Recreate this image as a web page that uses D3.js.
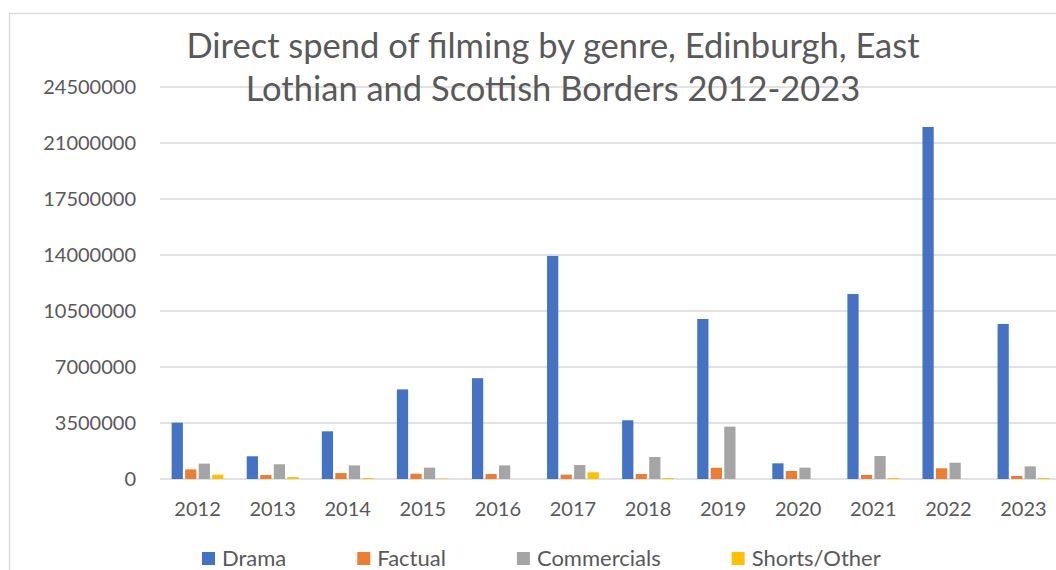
<!DOCTYPE html>
<html>
<head>
<meta charset="utf-8">
<script src="https://cdn.jsdelivr.net/npm/d3@7"></script>
<style>
  body { margin: 0; background: #fff; }
  svg { display: block; font-family: Lato, "Open Sans", sans-serif; }
</style>
</head>
<body>
<svg id="chart" width="1056" height="570"></svg>
<script>
var years = ['2012', '2013', '2014', '2015', '2016', '2017', '2018', '2019', '2020', '2021', '2022', '2023'];
var genres = ['Drama', 'Factual', 'Commercials', 'Shorts/Other'];
var drama = [3520000, 1420000, 2980000, 5600000, 6300000, 13940000, 3670000, 10000000, 980000, 11560000, 22000000, 9690000];
var factual = [600000, 250000, 370000, 330000, 310000, 270000, 310000, 700000, 500000, 250000, 670000, 190000];
var commercials = [960000, 920000, 850000, 710000, 850000, 875000, 1375000, 3270000, 710000, 1440000, 1020000, 790000];
var shorts = [270000, 120000, 60000, 30000, 0, 420000, 60000, 0, 0, 60000, 0, 60000];
var yTicks = [0, 3500000, 7000000, 10500000, 14000000, 17500000, 21000000, 24500000];
var colors = ['#4472C4', '#ED7D31', '#A5A5A5', '#FFC000'];
var titleLines = ['Direct spend of filming by genre, Edinburgh, East', 'Lothian and Scottish Borders 2012-2023'];

var series = [drama, factual, commercials, shorts];
var textColor = '#595959';

var svg = d3.select('#chart');

// outer chart border (cut off at right/bottom like the picture)
svg.append('rect')
    .attr('x', 9.5).attr('y', 13.5)
    .attr('width', 1100).attr('height', 600)
    .attr('fill', 'white')
    .attr('stroke', '#d9d9d9')
    .attr('stroke-width', 1.3);

var y = d3.scaleLinear().domain([0, 24500000]).range([479, 87]);
var x0 = d3.scaleBand().domain(years).range([160, 1061])
    .paddingInner(0.31).paddingOuter(0.155);
var x1 = d3.scaleBand().domain(genres).range([0, x0.bandwidth()])
    .paddingInner(0.17).paddingOuter(0);

// gridlines
svg.append('g').selectAll('line')
    .data(yTicks)
    .enter()
    .append('line')
        .attr('x1', 160).attr('x2', 1061)
        .attr('y1', function (d) { return y(d); })
        .attr('y2', function (d) { return y(d); })
        .attr('stroke', '#d9d9d9')
        .attr('stroke-width', 1.4);

// y axis labels
var yAxis = d3.axisLeft(y).tickValues(yTicks).tickSize(0).tickPadding(24)
    .tickFormat(function (d) { return String(d); });
svg.append('g')
    .attr('transform', 'translate(160,0)')
    .call(yAxis)
    .call(function (g) {
        g.select('.domain').remove();
        g.selectAll('text')
            .attr('fill', textColor)
            .attr('font-size', 20)
            .attr('font-family', 'Lato');
    });

// bars
var groups = svg.append('g').selectAll('g')
    .data(years)
    .enter()
    .append('g')
        .attr('transform', function (d) { return 'translate(' + x0(d) + ',0)'; });

groups.selectAll('rect')
    .data(function (d, i) {
        return genres.map(function (g, k) { return {genre: g, value: series[k][i], k: k}; });
    })
    .enter()
    .append('rect')
        .attr('x', function (d) { return x1(d.genre); })
        .attr('width', x1.bandwidth())
        .attr('y', function (d) { return y(d.value); })
        .attr('height', function (d) { return y(0) - y(d.value); })
        .attr('fill', function (d) { return colors[d.k]; });

// x axis labels
var xAxis = d3.axisBottom(x0).tickSize(0).tickPadding(23);
svg.append('g')
    .attr('transform', 'translate(0,479)')
    .call(xAxis)
    .call(function (g) {
        g.select('.domain').remove();
        g.selectAll('text')
            .attr('fill', textColor)
            .attr('font-size', 20)
            .attr('font-family', 'Lato');
    });

// title
svg.append('g').selectAll('text')
    .data(titleLines)
    .enter()
    .append('text')
        .attr('x', 553)
        .attr('y', function (d, i) { return 58 + i * 43; })
        .attr('text-anchor', 'middle')
        .attr('font-size', 34.5)
        .attr('fill', textColor)
        .text(function (d) { return d; });

// legend
var legend = svg.append('g').attr('transform', 'translate(0,559)');
var lx = 202;
genres.forEach(function (g, k) {
    var item = legend.append('g').attr('transform', 'translate(' + lx + ',0)');
    item.append('rect')
        .attr('x', 0).attr('y', -7)
        .attr('width', 13).attr('height', 13)
        .attr('fill', colors[k]);
    var t = item.append('text')
        .attr('x', 20).attr('y', 7)
        .attr('font-size', 22)
        .attr('fill', textColor)
        .text(g);
    lx += 20 + t.node().getComputedTextLength() + 71;
});
</script>
</body>
</html>
